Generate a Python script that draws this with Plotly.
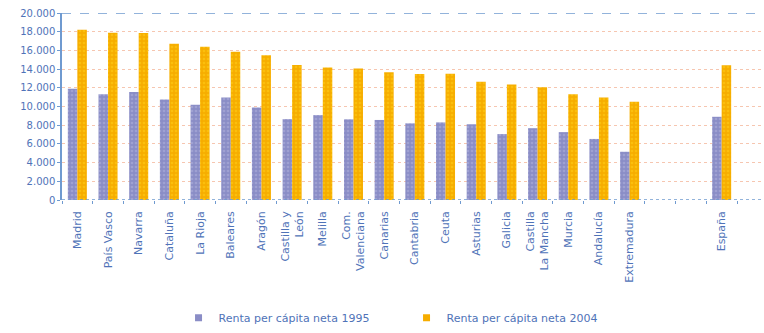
import plotly.graph_objects as go

# Renta per cápita neta por comunidad autónoma (euros)
regiones = [
    "Madrid", "País Vasco", "Navarra", "Cataluña", "La Rioja", "Baleares",
    "Aragón", "Castilla y<br>León", "Melilla", "Com.<br>Valenciana", "Canarias",
    "Cantabria", "Ceuta", "Asturias", "Galicia", "Castilla<br>La Mancha",
    "Murcia", "Andalucía", "Extremadura", "", "", "España",
]
renta_1995 = [11900, 11300, 11550, 10750, 10200, 10950, 9900, 8650, 9080, 8630,
              8560, 8200, 8300, 8100, 7050, 7680, 7260, 6530, 5160, None, None, 8900]
renta_2004 = [18200, 17880, 17850, 16700, 16400, 15860, 15470, 14450, 14170, 14070,
              13650, 13470, 13500, 12660, 12350, 12070, 11300, 10950, 10500, None, None, 14420]
y_ticks = list(range(0, 20001, 2000))

series_names = ["Renta per cápita neta 1995", "Renta per cápita neta 2004"]
series_colors = ["#8a8dc6", "#f6ad00"]
dot_colors = ["#b3b5de", "#ffd21a"]

BLUE_TXT = "#4f73b8"
AXIS = "#6f9ad0"
FONT = "DejaVu Sans"

xpos = list(range(len(regiones)))

fig = go.Figure()
for vals, name, col, dot in zip([renta_1995, renta_2004], series_names,
                                series_colors, dot_colors):
    fig.add_trace(go.Bar(
        x=xpos, y=vals, name=name, showlegend=False,
        marker=dict(color=col, line=dict(width=0),
                    pattern=dict(shape=".", fgcolor=dot, bgcolor=col,
                                 size=4, solidity=0.35)),
    ))
    # small square key for the legend
    fig.add_trace(go.Scatter(
        x=[None], y=[None], mode="markers", name=name,
        marker=dict(symbol="square", size=7, color=col),
    ))

# top reference line and dotted baseline
fig.add_shape(type="line", xref="paper", yref="y", x0=0, x1=1, y0=20000, y1=20000,
              line=dict(color=AXIS, width=1.5, dash="dash"), layer="above")
fig.add_shape(type="line", xref="paper", yref="y", x0=0, x1=1, y0=0, y1=0,
              line=dict(color=AXIS, width=1.5, dash="dot"), layer="above")

fig.update_layout(
    width=764, height=333,
    margin=dict(l=62, r=0, t=13, b=130),
    paper_bgcolor="white", plot_bgcolor="white",
    barmode="group", bargap=0.38, bargroupgap=0,
    separators=",.",
    font=dict(family=FONT, color=BLUE_TXT, size=10),
    showlegend=True,
    legend=dict(orientation="h", x=0.166, y=-0.63, xanchor="left", yanchor="middle",
                entrywidth=183, entrywidthmode="pixels",
                font=dict(family=FONT, size=11, color=BLUE_TXT),
                itemwidth=30, traceorder="normal"),
    xaxis=dict(
        range=[-0.5, 22.38], tickmode="array", tickvals=xpos, ticktext=regiones,
        tickangle=-90, ticks="", showgrid=False, zeroline=False, showline=False,
        ticklabelstandoff=8,
        tickfont=dict(family=FONT, size=11, color=BLUE_TXT),
        minor=dict(tickmode="linear", tick0=0.5, dtick=1, ticks="outside",
                   ticklen=3, tickcolor=AXIS, showgrid=False),
        fixedrange=True,
    ),
    yaxis=dict(
        range=[0, 20000], tickmode="array", tickvals=y_ticks, tickformat=",d",
        showline=True, linecolor=AXIS, linewidth=1.5,
        ticks="outside", ticklen=3, tickcolor=AXIS,
        showgrid=True, gridcolor="#f6c6b0", griddash="dot", gridwidth=1,
        zeroline=False,
        tickfont=dict(family=FONT, size=10, color=BLUE_TXT),
        fixedrange=True,
    ),
)

fig.write_html("out.html")
